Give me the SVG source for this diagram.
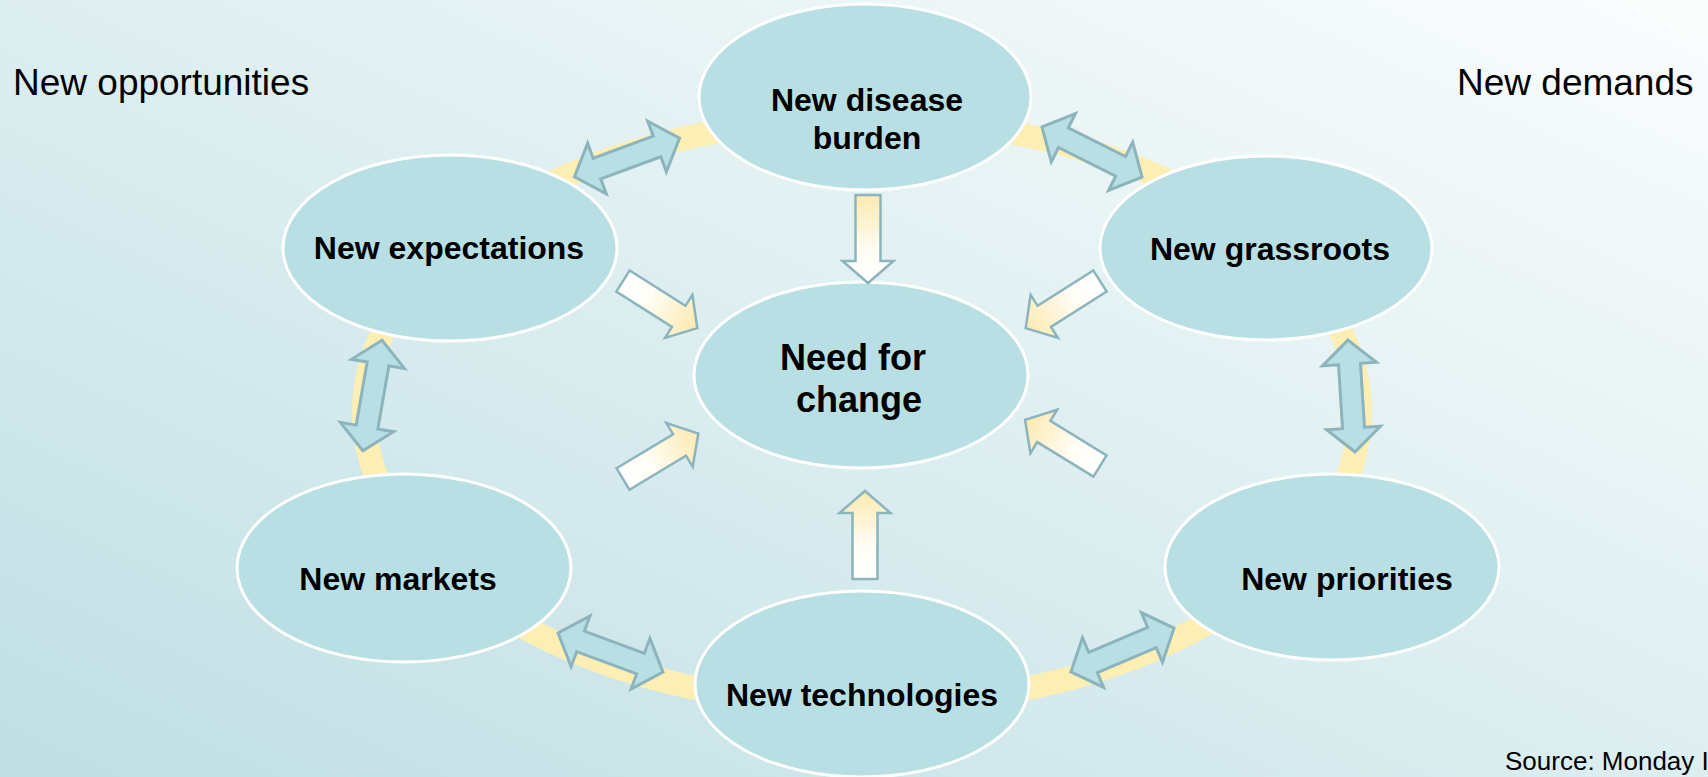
<svg xmlns="http://www.w3.org/2000/svg" xmlns:xlink="http://www.w3.org/1999/xlink" width="1708" height="777" viewBox="0 0 1708 777">
<defs>
<linearGradient id="bg" x1="0" y1="1" x2="1" y2="0">
<stop offset="0" stop-color="#bfdfe4"/>
<stop offset="1" stop-color="#fbfdfd"/>
</linearGradient>
<linearGradient id="gHead" x1="0" y1="0" x2="1" y2="0">
<stop offset="0" stop-color="#ffffff"/>
<stop offset="0.35" stop-color="#fffdf5"/>
<stop offset="1" stop-color="#fdeab0"/>
</linearGradient>
<linearGradient id="gTail" x1="0" y1="0" x2="1" y2="0">
<stop offset="0" stop-color="#fdeab0"/>
<stop offset="0.65" stop-color="#fffdf5"/>
<stop offset="1" stop-color="#ffffff"/>
</linearGradient>
<polygon id="dbl" points="-56,0 -32,-27 -32,-11 32,-11 32,-27 56,0 32,27 32,11 -32,11 -32,27"/>
<polygon id="sgl" points="0,-12.5 66,-12.5 66,-25.5 88,0 66,25.5 66,12.5 0,12.5"/>
<style>
.node{fill:#b8dfe3;stroke:#ffffff;stroke-width:3}
.lbl{font-family:"Liberation Sans",Arial,sans-serif;font-weight:bold;font-size:32px;fill:#000;text-anchor:middle}
.big{font-size:36px}
.side{font-family:"Liberation Sans",Arial,sans-serif;font-size:37px;fill:#000}
.dbl{fill:#b8dfe3;stroke:#8cb4bc;stroke-width:3;stroke-linejoin:miter}
.sgl{stroke:#8cb4bc;stroke-width:2.5}
</style>
</defs>
<rect x="0" y="0" width="1708" height="777" fill="url(#bg)"/>
<g id="ring">
<ellipse cx="862" cy="412" rx="498" ry="293" fill="none" stroke="#fdeeb4" stroke-width="24"/>
</g>
<g id="n-disease">
<ellipse class="node" cx="865" cy="97" rx="166" ry="93"/>
<text class="lbl" x="867" y="111">New disease</text>
<text class="lbl" x="867" y="149">burden</text>
</g>
<g id="n-expectations">
<ellipse class="node" cx="450" cy="248" rx="167" ry="93"/>
<text class="lbl" x="449" y="259">New expectations</text>
</g>
<g id="n-grassroots">
<ellipse class="node" cx="1266" cy="248" rx="166" ry="92"/>
<text class="lbl" x="1270" y="260">New grassroots</text>
</g>
<g id="n-center">
<ellipse class="node" cx="861" cy="375" rx="167" ry="93"/>
<text class="lbl big" x="853" y="370">Need for</text>
<text class="lbl big" x="859" y="412">change</text>
</g>
<g id="n-markets">
<ellipse class="node" cx="404" cy="568" rx="167" ry="94"/>
<text class="lbl" x="398" y="590">New markets</text>
</g>
<g id="n-priorities">
<ellipse class="node" cx="1332" cy="567" rx="167" ry="93"/>
<text class="lbl" x="1347" y="590">New priorities</text>
</g>
<g id="n-technologies">
<ellipse class="node" cx="862" cy="684" rx="167" ry="93"/>
<text class="lbl" x="862" y="706">New technologies</text>
</g>
<g id="connectors">
<use xlink:href="#dbl" class="dbl" transform="translate(627,157.5) rotate(-20.2)"/>
<use xlink:href="#dbl" class="dbl" transform="translate(1092,152) rotate(26.6)"/>
<use xlink:href="#dbl" class="dbl" transform="translate(372.5,395.5) rotate(99.9)"/>
<use xlink:href="#dbl" class="dbl" transform="translate(1351.5,396) rotate(86.4)"/>
<use xlink:href="#dbl" class="dbl" transform="translate(610.5,652.5) rotate(20.4)"/>
<use xlink:href="#dbl" class="dbl" transform="translate(1122.5,650) rotate(-23)"/>
<use xlink:href="#sgl" class="sgl" fill="url(#gTail)" transform="translate(868,195) rotate(90)"/>
<use xlink:href="#sgl" class="sgl" fill="url(#gHead)" transform="translate(865,579) rotate(-90)"/>
<use xlink:href="#sgl" class="sgl" fill="url(#gHead)" transform="translate(623,281) rotate(32.4)"/>
<use xlink:href="#sgl" class="sgl" fill="url(#gHead)" transform="translate(1100,281) rotate(147.6)"/>
<use xlink:href="#sgl" class="sgl" fill="url(#gHead)" transform="translate(623,479) rotate(-31.1)"/>
<use xlink:href="#sgl" class="sgl" fill="url(#gHead)" transform="translate(1100,466) rotate(-148.4)"/>
</g>
<g id="labels">
<text class="side" x="13" y="95">New opportunities</text>
<text class="side" x="1457" y="95">New demands</text>
<text class="side" x="1505" y="770" style="font-size:26px">Source: Monday I</text>
</g>
</svg>
